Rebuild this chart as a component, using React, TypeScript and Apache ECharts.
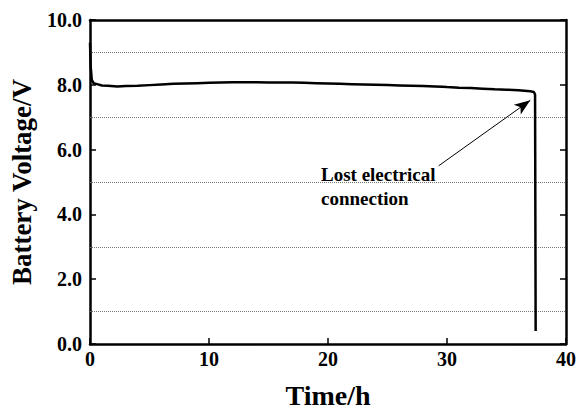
import React, { useEffect, useRef } from "react";
import * as echarts from "echarts";

const timeH: number[] = [0, 0.05, 0.15, 0.3, 0.6, 1, 1.5, 2.3, 3, 4, 5, 6, 7, 8, 9, 10, 11, 12, 13, 14, 15, 16, 17, 18, 19, 20, 21, 22, 23, 24, 25, 26, 27, 28, 29, 29.6, 30, 31, 32, 33, 34, 35, 36, 37, 37.3, 37.4, 37.45];
const voltage: number[] = [9.3, 8.6, 8.15, 8.05, 8.02, 7.98, 7.97, 7.95, 7.96, 7.97, 7.99, 8.01, 8.03, 8.04, 8.05, 8.06, 8.07, 8.08, 8.08, 8.08, 8.07, 8.07, 8.07, 8.06, 8.05, 8.04, 8.03, 8.02, 8.01, 8.0, 7.99, 7.98, 7.97, 7.96, 7.95, 7.94, 7.93, 7.91, 7.9, 7.88, 7.86, 7.85, 7.83, 7.8, 7.78, 7.7, 0.4];
const gridValues: number[] = [1, 3, 5, 7, 9];
const arrowFrom: [number, number] = [29.3, 5.5];
const arrowTo: [number, number] = [37.0, 7.52];
const annotation = "Lost electrical\nconnection";

const FONT = "Liberation Serif";

export default function App() {
  const ref = useRef<HTMLDivElement>(null);
  useEffect(() => {
    if (!ref.current) return;
    const chart = echarts.init(ref.current, undefined, { renderer: "svg" });
    const data = timeH.map((t, i) => [t, voltage[i]]);
    const axisCommon = {
      axisLine: { show: true, onZero: false, lineStyle: { color: "#000", width: 2.5 } },
      axisTick: { show: true, inside: true, length: 6, lineStyle: { color: "#000", width: 1.5 } },
      splitLine: { show: false },
    };
    const labelStyle = { color: "#000", fontFamily: FONT, fontWeight: 700, fontSize: 20 };
    const nameStyle = { color: "#000", fontFamily: FONT, fontWeight: 700, fontSize: 27 };
    chart.setOption({
      animation: false,
      backgroundColor: "#fff",
      grid: { left: 89, right: 10, top: 20, bottom: 63, containLabel: false },
      xAxis: [
        {
          type: "value",
          min: 0,
          max: 40,
          interval: 10,
          ...axisCommon,
          axisLabel: { ...labelStyle, margin: 5 },
          name: "Time/h",
          nameLocation: "middle",
          nameGap: 37,
          nameTextStyle: { ...nameStyle, fontSize: 28 },
        },
        {
          type: "value",
          position: "top",
          min: 0,
          max: 40,
          interval: 10,
          ...axisCommon,
          axisTick: { show: false },
          axisLabel: { show: false },
        },
      ],
      yAxis: [
        {
          type: "value",
          min: 0,
          max: 10,
          interval: 2,
          ...axisCommon,
          axisLabel: {
            ...labelStyle,
            margin: 8,
            formatter: (v: number) => v.toFixed(1),
          },
          name: "Battery Voltage/V",
          nameLocation: "middle",
          nameGap: 55,
          nameTextStyle: nameStyle,
        },
        {
          type: "value",
          position: "right",
          min: 0,
          max: 10,
          interval: 2,
          ...axisCommon,
          axisLabel: { show: false },
        },
      ],
      series: [
        {
          type: "line",
          data,
          showSymbol: false,
          symbol: "none",
          lineStyle: { color: "#000", width: 2.5 },
          z: 5,
          markLine: {
            silent: true,
            symbol: ["none", "none"],
            label: { show: false },
            lineStyle: { color: "#777", width: 1, type: "dotted" },
            data: gridValues.map((g) => ({ yAxis: g })),
          },
        },
        {
          type: "line",
          data: [],
          markLine: {
            silent: true,
            symbol: ["none", "arrow"],
            symbolSize: [9, 16],
            label: { show: false },
            lineStyle: { color: "#000", width: 1, type: "solid" },
            data: [[{ coord: arrowFrom }, { coord: arrowTo }]],
          },
        },
      ],
      graphic: [
        {
          type: "text",
          left: 321,
          top: 162,
          style: {
            text: annotation,
            fill: "#000",
            fontFamily: FONT,
            fontWeight: 700,
            fontSize: 19,
            lineHeight: 24,
          },
        },
      ],
    });
    return () => chart.dispose();
  }, []);
  return <div ref={ref} style={{ width: 579, height: 414, position: "absolute", left: 0, top: 0 }} />;
}
